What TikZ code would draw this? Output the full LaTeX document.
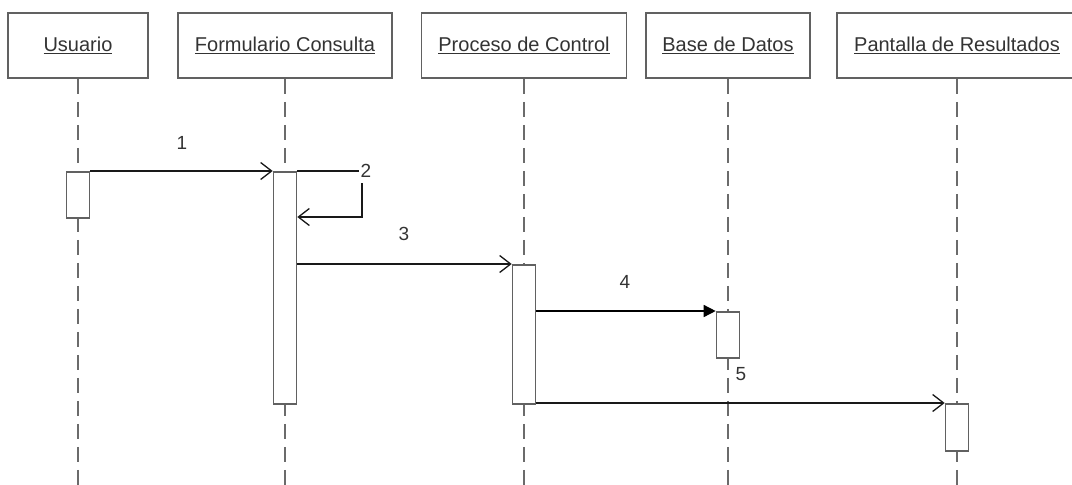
\documentclass[tikz,border=0pt]{standalone}
\usepackage{fontspec}
\setmainfont{Liberation Sans}
\usetikzlibrary{arrows.meta}
\begin{document}
\begin{tikzpicture}[x=1pt,y=-1pt,
  obj/.style={draw=black!62, line width=1.8pt, fill=white, minimum height=65pt,
    inner sep=0pt, font=\fontsize{20}{24}\selectfont, text=black!80},
  act/.style={draw=black!62, line width=1.6pt, fill=white, minimum width=23pt,
    inner sep=0pt, anchor=north},
  life/.style={draw=black!58, line width=1.8pt, dash pattern=on 15pt off 8pt},
  msg/.style={draw=black!90, line width=1.3pt,
    -{Straight Barb[length=11pt,width=17pt,line width=1.3pt]}},
  sync/.style={draw=black, line width=1.5pt, -{Triangle[length=12pt,width=12pt]}},
  num/.style={font=\fontsize{19}{22}\selectfont, text=black!80, inner sep=0pt}]

\useasboundingbox (0,0) rectangle (1072,485);
\clip (0,0) rectangle (1072,485);

% objects
\node[obj, minimum width=140pt] (usr) at (78,45.5)  {\underline{Usuario}};
\node[obj, minimum width=214pt] (frm) at (285,45.5) {\underline{Formulario Consulta}};
\node[obj, minimum width=205pt] (prc) at (524,45.5) {\underline{Proceso de Control}};
\node[obj, minimum width=164pt] (bd)  at (728,45.5) {\underline{Base de Datos}};
\node[obj, minimum width=240pt] (res) at (957,45.5) {\underline{Pantalla de Resultados}};

% lifelines
\coordinate (usrE) at (78,495);
\coordinate (frmE) at (285,495);
\coordinate (prcE) at (524,495);
\coordinate (bdE)  at (728,495);
\coordinate (resE) at (957,495);
\draw[life] (usr.south) -- (usrE);
\draw[life] (frm.south) -- (frmE);
\draw[life] (prc.south) -- (prcE);
\draw[life] (bd.south)  -- (bdE);
\draw[life] (res.south) -- (resE);

% activations
\node[act, minimum height=46pt]  (ua) at (78,171) {};
\node[act, minimum height=232pt] (fa) at (285,171) {};
\node[act, minimum height=139pt] (pa) at (524,264) {};
\node[act, minimum height=46pt]  (ba) at (728,311) {};
\node[act, minimum height=47pt]  (ra) at (957,403) {};

% messages
\draw[msg] (ua.north east) -- (fa.north west);

\coordinate (s2)  at (362,171);
\coordinate (s2b) at (362,217);
\draw[msg] (fa.north east) -- (s2) -- (s2b) -- (fa.east |- s2b);
\node[num, fill=white, minimum width=14pt, minimum height=24pt] (l2) at (366,171) {2};

\draw[msg]  (fa.east |- pa.north) -- (pa.north west);
\draw[sync] (pa.east |- ba.north) -- (ba.north west);
\draw[msg]  (pa.east |- ra.north) -- (ra.north west);

% message numbers
\node[num] (l1) at (182,143) {1};
\node[num] (l3) at (404,234) {3};
\node[num] (l4) at (625,282) {4};
\node[num] (l5) at (741,374) {5};

\end{tikzpicture}
\end{document}
